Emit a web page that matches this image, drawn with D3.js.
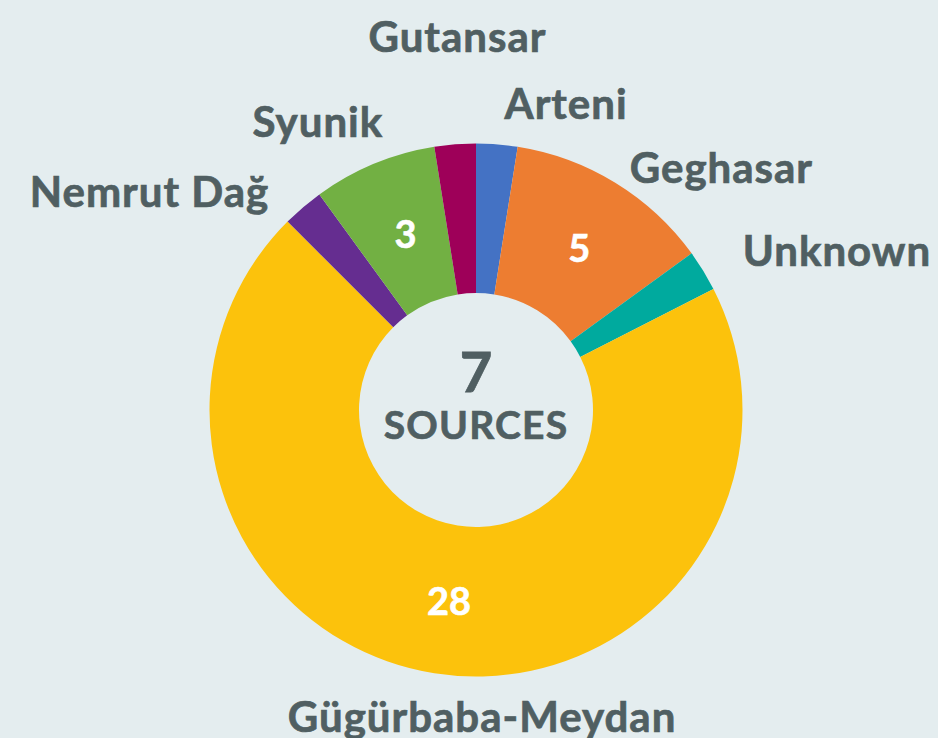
<!DOCTYPE html>
<html>
<head>
<meta charset="utf-8">
<script src="https://cdn.jsdelivr.net/npm/d3@7"></script>
<style>
  html, body { margin: 0; padding: 0; background: #e4edef; }
  svg { display: block; }
  text { font-family: "Lato", "DejaVu Sans", sans-serif; font-weight: 700; }
</style>
</head>
<body>
<svg class="main" width="938" height="738"></svg>
<script>
// data, clockwise from 12 o'clock
const sources = ["Arteni", "Geghasar", "Unknown", "Gügürbaba-Meydan", "Nemrut Dağ", "Syunik", "Gutansar"];
const counts = [1, 5, 1, 28, 1, 3, 1];
const colors = ["#4472c4", "#ed7d31", "#00aa9e", "#fcc20c", "#652d90", "#72b043", "#9e0059"];
const centerTitle = ["7", "SOURCES"];

const layout = { cx: 476, cy: 410, inner: 117, outer: 266.5, labelR: 300 };

// hand nudges so the outer labels don't collide (like the original)
const nudge = {
  "Arteni": [5, -6],
  "Geghasar": [-3, 14],
  "Unknown": [11, -2],
  "Gügürbaba-Meydan": [53, 11],
  "Nemrut Dağ": [-12, 11],
  "Syunik": [22, -10],
  "Gutansar": [5, -73]
};

const textColor = "#505f62";

const rows = sources.map((s, i) => ({ name: s, value: counts[i], color: colors[i] }));

const svg = d3.select(".main");
const g = svg.append("g").attr("transform", `translate(${layout.cx},${layout.cy})`);

const pie = d3.pie().value(d => d.value).sort(null);
const arc = d3.arc().innerRadius(layout.inner).outerRadius(layout.outer);
const arcs = pie(rows);

g.selectAll("path.slice")
  .data(arcs)
  .join("path")
  .attr("class", "slice")
  .attr("d", arc)
  .attr("fill", d => d.data.color);

// counts inside the bigger slices
g.selectAll("text.count")
  .data(arcs.filter(d => d.data.value > 1))
  .join("text")
  .attr("class", "count")
  .attr("transform", d => `translate(${arc.centroid(d)})`)
  .attr("text-anchor", "middle")
  .attr("dx", 3)
  .attr("dy", "0.4em")
  .attr("fill", "#fff")
  .attr("stroke", "#fff")
  .attr("stroke-width", 0.6)
  .style("font-size", "38px")
  .text(d => d.data.value);

// outer labels
g.selectAll("text.label")
  .data(arcs)
  .join("text")
  .attr("class", "label")
  .each(function (d) {
    const a = (d.startAngle + d.endAngle) / 2;
    const s = Math.sin(a);
    const n = nudge[d.data.name] || [0, 0];
    const x = layout.labelR * s + n[0];
    const y = -layout.labelR * Math.cos(a) + n[1];
    const anchor = s > 0.05 ? "start" : s < -0.2 ? "end" : "middle";
    d3.select(this)
      .attr("x", x)
      .attr("y", y)
      .attr("dy", "0.34em")
      .attr("text-anchor", anchor);
  })
  .attr("fill", textColor)
  .attr("stroke", textColor)
  .attr("stroke-width", 0.7)
  .style("font-size", "42px")
  .style("letter-spacing", "1px")
  .text(d => d.data.name);

// center
g.append("text")
  .attr("text-anchor", "middle")
  .attr("y", -18)
  .attr("fill", textColor)
  .attr("stroke", textColor)
  .attr("stroke-width", 0.8)
  .style("font-size", "56px")
  .text(centerTitle[0]);

g.append("text")
  .attr("text-anchor", "middle")
  .attr("y", 29)
  .attr("fill", textColor)
  .attr("stroke", textColor)
  .attr("stroke-width", 0.7)
  .style("font-size", "39px")
  .style("letter-spacing", "1.2px")
  .text(centerTitle[1]);
</script>
</body>
</html>
